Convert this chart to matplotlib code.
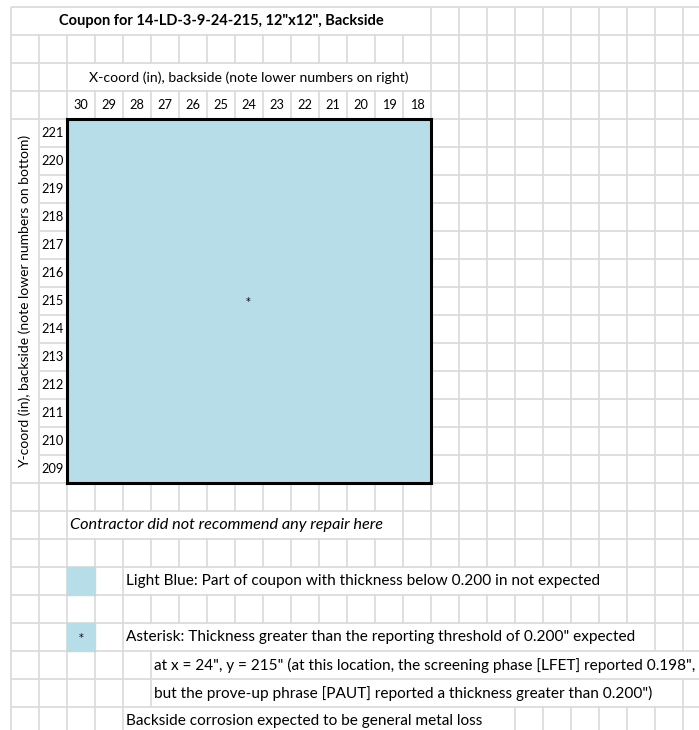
import numpy as np
import matplotlib.pyplot as plt
from matplotlib.patches import Rectangle
from matplotlib.collections import LineCollection
from matplotlib.colors import ListedColormap

plt.rcParams['font.family'] = ['Lato', 'DejaVu Sans']

# ---- data ----
title = 'Coupon for 14-LD-3-9-24-215, 12"x12", Backside'
x_label = "X-coord (in), backside (note lower numbers on right)"
y_label = "Y-coord (in), backside (note lower numbers on bottom)"
x_coords = [30, 29, 28, 27, 26, 25, 24, 23, 22, 21, 20, 19, 18]
y_coords = [221, 220, 219, 218, 217, 216, 215, 214, 213, 212, 211, 210, 209]
below_0200_cells = []          # (x, y) with thickness below 0.200 expected: none
asterisk_cells = [(24, 215)]
repair_note = "Contractor did not recommend any repair here"
legend_blue = "Light Blue: Part of coupon with thickness below 0.200 in not expected"
legend_star = ['Asterisk: Thickness greater than the reporting threshold of 0.200" expected',
               'at x = 24", y = 215" (at this location, the screening phase [LFET] reported 0.198",',
               'but the prove-up phrase [PAUT] reported a thickness greater than 0.200")']
general_note = "Backside corrosion expected to be general metal loss"

# ---- sheet layout (cells) ----
W, H = 699, 730
CW, RH = 28.0, 28.0
X0, Y0 = 11.0, 7.3
NCOL, NROW = 25, 26
GRID_COL, GRID_ROW = 2, 4
LIGHT_BLUE = '#b7dde8'
GRID_GRAY = '#d9d9d9'
FS = 10
FS_TICK = 9.2
FS_NOTE = 11.1
PAD = 3 / CW
STAR = dict(ha='center', va='center', fontsize=7, family='DejaVu Sans', zorder=4)

fig = plt.figure(figsize=(W / 100, H / 100), dpi=100)
ax = fig.add_axes([0, 0, 1, 1])
ax.set_xlim(-X0 / CW, (W - X0) / CW)
ax.set_ylim((H - Y0) / RH, -Y0 / RH)
ax.axis('off')

nx, ny = len(x_coords), len(y_coords)

# hidden vertical gridline pieces: row -> columns whose left edge is hidden
hide_v = {0: range(1, 15), 2: range(3, 15), 18: range(3, 14), 20: range(5, 22),
          22: range(5, 23), 23: range(6, 25), 24: range(6, 24), 25: range(5, 18)}
for r in range(GRID_ROW, GRID_ROW + ny):
    hide_v[r] = range(GRID_COL + 1, GRID_COL + nx)
hide_h = {0: range(GRID_ROW + 1, GRID_ROW + ny)}
for c in range(GRID_COL, GRID_COL + nx):
    hide_h[c] = range(GRID_ROW + 1, GRID_ROW + ny)

segs = []
for r in range(NROW):
    for c in range(NCOL + 1):
        if c not in hide_v.get(r, []):
            segs.append([(c, r), (c, r + 1)])
for c in range(NCOL):
    for r in range(NROW + 1):
        if r not in hide_h.get(c, []):
            segs.append([(c, r), (c + 1, r)])
ax.add_collection(LineCollection(segs, colors=GRID_GRAY, linewidths=1.2, zorder=1))

# coupon cells
status = np.zeros((ny, nx))
for (xv, yv) in below_0200_cells:
    status[y_coords.index(yv), x_coords.index(xv)] = 1
ax.pcolormesh(np.arange(GRID_COL, GRID_COL + nx + 1), np.arange(GRID_ROW, GRID_ROW + ny + 1),
              status, cmap=ListedColormap([LIGHT_BLUE, '#ff0000']), vmin=0, vmax=1, zorder=2)
ax.add_patch(Rectangle((GRID_COL, GRID_ROW), nx, ny, fill=False, edgecolor='black',
                       linewidth=2.2, zorder=3))
for (xv, yv) in asterisk_cells:
    ax.text(GRID_COL + x_coords.index(xv) + 0.46, GRID_ROW + y_coords.index(yv) + 0.54, '*', **STAR)

# axis labels & ticks
ax.text(7.5, 0.5, title, ha='center', va='center', fontsize=10.5, fontweight='bold')
ax.text(GRID_COL + nx / 2, 2.5, x_label, ha='center', va='center', fontsize=10.1)
for i, xv in enumerate(x_coords):
    ax.text(GRID_COL + i + 0.5, 3.5, str(xv), ha='center', va='center', fontsize=FS_TICK)
for j, yv in enumerate(y_coords):
    ax.text(1.5, GRID_ROW + j + 0.5, str(yv), ha='center', va='center', fontsize=FS_TICK)
ax.text(0.5, GRID_ROW + ny / 2, y_label, ha='center', va='center', rotation=90, fontsize=FS)

# notes & legend
ax.text(2 + PAD, 18.5, repair_note, ha='left', va='center', fontsize=11.7, style='italic')
ax.add_patch(Rectangle((2, 20), 1, 1, facecolor=LIGHT_BLUE, edgecolor=LIGHT_BLUE,
                       linewidth=1.0, zorder=2))
ax.text(4 + PAD, 20.5, legend_blue, ha='left', va='center', fontsize=FS_NOTE)
ax.add_patch(Rectangle((2, 22), 1, 1, facecolor=LIGHT_BLUE, edgecolor=LIGHT_BLUE,
                       linewidth=1.0, zorder=2))
ax.text(2.5, 22.54, '*', **STAR)
ax.text(4 + PAD, 22.5, legend_star[0], ha='left', va='center', fontsize=FS_NOTE)
ax.text(5 + PAD, 23.5, legend_star[1], ha='left', va='center', fontsize=FS_NOTE)
ax.text(5 + PAD, 24.5, legend_star[2], ha='left', va='center', fontsize=FS_NOTE)
ax.text(4 + PAD, 25.5, general_note, ha='left', va='center', fontsize=FS_NOTE)

plt.savefig('out.png', dpi=100)
